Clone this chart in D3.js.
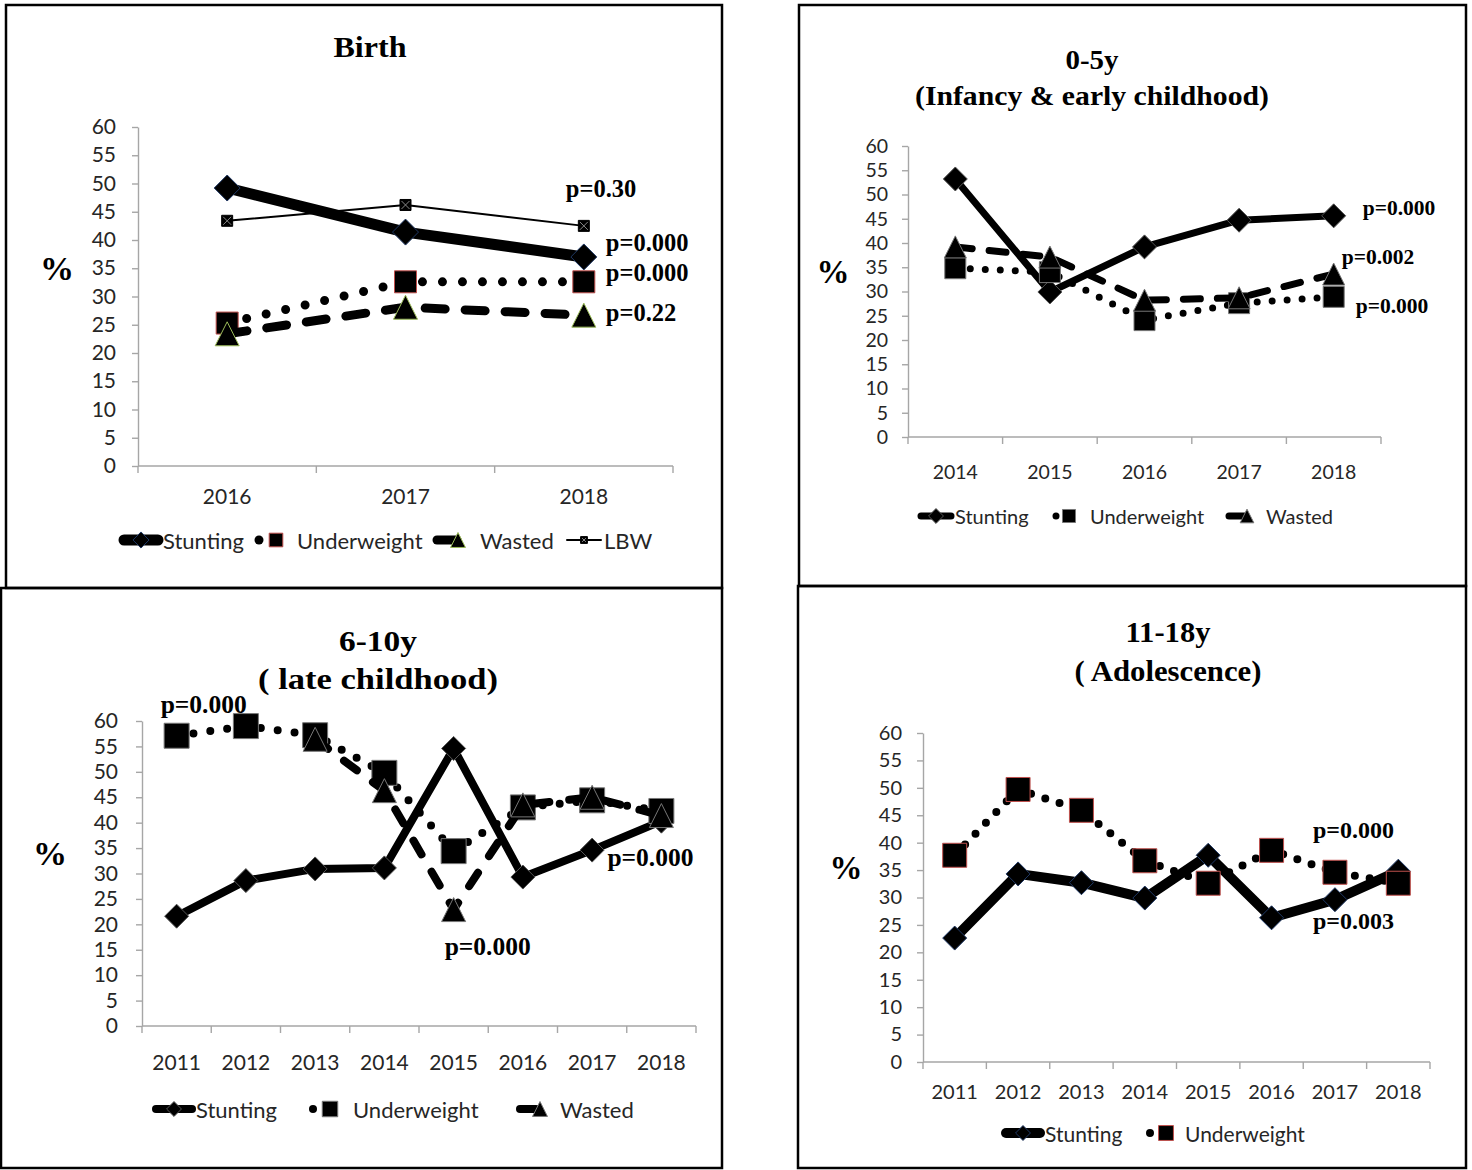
<!DOCTYPE html>
<html>
<head>
<meta charset="utf-8">
<script src="https://cdn.jsdelivr.net/npm/d3@7"></script>
<style>
	body { margin: 0; background: #fff; }
	svg { display: block; }
	.tick text, .legend text { font-family: Lato, "Open Sans", sans-serif; fill: #262626; }
	.title, .plabel, .pct { font-family: "Liberation Serif", "Times New Roman", serif; font-weight: bold; fill: #000; }
</style>
</head>
<body>
<div id="chart"></div>
<script>

// ---- data ----
var birthYears = ["2016", "2017", "2018"];
var birthStunting = [49.2, 41.4, 37.0];
var birthUnderweight = [25.3, 32.6, 32.6];
var birthWasted = [23.4, 28.1, 26.7];
var birthLBW = [43.4, 46.2, 42.5];

var earlyYears = ["2014", "2015", "2016", "2017", "2018"];
var earlyStunting = [53.2, 29.9, 39.2, 44.7, 45.6];
var earlyUnderweight = [34.8, 34.0, 24.1, 27.6, 28.9];
var earlyWasted = [39.2, 37.1, 28.2, 28.7, 33.6];

var lateYears = ["2011", "2012", "2013", "2014", "2015", "2016", "2017", "2018"];
var lateStunting = [21.6, 28.6, 30.9, 31.1, 54.6, 29.3, 34.6, 40.3];
var lateUnderweight = [57.1, 59.0, 57.2, 49.8, 34.4, 43.0, 44.4, 42.3];
var lateWasted = [null, null, 56.4, 46.3, 22.9, 43.5, 45.0, 41.4];

var adolYears = ["2011", "2012", "2013", "2014", "2015", "2016", "2017", "2018"];
var adolStunting = [22.6, 34.3, 32.7, 29.9, 37.7, 26.3, 29.6, 34.8];
var adolUnderweight = [37.7, 49.7, 45.9, 36.7, 32.6, 38.6, 34.6, 32.6];

var yTicks = [0, 5, 10, 15, 20, 25, 30, 35, 40, 45, 50, 55, 60];

// marker shapes, s = full width
function markerPath(type, s) {
	var h = s / 2;
	if (type === "diamond") return "M0," + (-h) + "L" + h + ",0L0," + h + "L" + (-h) + ",0Z";
	if (type === "triangle") return "M0," + (-h) + "L" + h + "," + h + "L" + (-h) + "," + h + "Z";
	return "M" + (-h) + "," + (-h) + "h" + s + "v" + s + "h" + (-s) + "Z";
}

/*
 * LinePanel - one of the four small charts
 */
LinePanel = function (_svg, _cfg) {
	this.svg = _svg;
	this.cfg = _cfg;
	this.initVis();
}

LinePanel.prototype.initVis = function () {
	var vis = this, c = vis.cfg;

	vis.g = vis.svg.append("g");

	// frame
	vis.g.append("rect")
		.attr("x", c.frame[0]).attr("y", c.frame[1])
		.attr("width", c.frame[2] - c.frame[0]).attr("height", c.frame[3] - c.frame[1])
		.attr("fill", "none").attr("stroke", "#000").attr("stroke-width", 2.5);

	// titles (the original is stretched sideways)
	c.title.forEach(function (t, i) {
		vis.g.append("text").attr("class", "title")
			.attr("x", c.titleX - c.titleW[i] / 2).attr("y", c.titleY[i])
			.attr("textLength", c.titleW[i]).attr("lengthAdjust", "spacingAndGlyphs")
			.style("font-size", c.titleSize + "px")
			.text(t);
	});

	vis.x = d3.scaleBand().domain(c.years).range([c.left, c.right]).padding(0);
	vis.y = d3.scaleLinear().domain([0, 60]).range([c.y0, c.y60]);
	var cx = function (i) { return vis.x(c.years[i]) + vis.x.bandwidth() / 2; };

	// y axis
	vis.yAxis = d3.axisLeft(vis.y).tickValues(yTicks).tickSize(6).tickSizeOuter(0).tickPadding(c.yPad);
	var ya = vis.g.append("g").attr("class", "y-axis axis")
		.attr("transform", "translate(" + c.left + ",0)")
		.call(vis.yAxis);
	ya.selectAll("path, line").attr("stroke", "#a6a6a6").attr("stroke-width", 1.4);
	ya.selectAll("text").style("font-size", c.tickSize + "px");

	// x axis: labels at band centres, ticks at band edges
	vis.xAxis = d3.axisBottom(vis.x).tickSize(0);
	var xa = vis.g.append("g").attr("class", "x-axis axis")
		.attr("transform", "translate(0," + c.y0 + ")")
		.call(vis.xAxis);
	xa.select(".domain").remove();
	xa.selectAll("text").attr("y", c.xOff).attr("dy", "0.35em").style("font-size", c.tickSize + "px");
	xa.append("line").attr("x1", c.left).attr("x2", c.right)
		.attr("stroke", "#a6a6a6").attr("stroke-width", 1.4);
	var edges = c.years.map(function (d) { return vis.x(d); }).concat([c.right]);
	xa.selectAll(".edge").data(edges).enter().append("line")
		.attr("class", "edge")
		.attr("x1", function (d) { return d; }).attr("x2", function (d) { return d; })
		.attr("y1", 0).attr("y2", 7)
		.attr("stroke", "#a6a6a6").attr("stroke-width", 1.4);

	// "%"
	vis.g.append("text").attr("class", "pct")
		.attr("x", c.pct[0]).attr("y", c.pct[1])
		.attr("text-anchor", "middle").attr("dominant-baseline", "central")
		.style("font-size", c.pctSize + "px")
		.text("%");

	// series
	c.series.forEach(function (s) {
		var line = d3.line()
			.defined(function (d) { return d != null; })
			.x(function (d, i) { return cx(i); })
			.y(function (d) { return vis.y(d); });
		vis.styleLine(vis.g.append("path").attr("d", line(s.values)), s);

		vis.g.selectAll(null)
			.data(s.values.map(function (v, i) { return { v: v, i: i }; }).filter(function (d) { return d.v != null; }))
			.enter().append("g")
			.attr("transform", function (d) { return "translate(" + cx(d.i) + "," + vis.y(d.v) + ")"; })
			.each(function () { vis.drawMarker(d3.select(this), s); });
	});

	// p-value labels
	c.notes.forEach(function (n) {
		vis.g.append("text").attr("class", "plabel")
			.attr("x", cx(c.years.indexOf(n.year)) + n.dx)
			.attr("y", vis.y(n.value))
			.attr("dominant-baseline", "central")
			.style("font-size", c.noteSize + "px")
			.text(n.text);
	});

	// legend: solid samples run both sides of the marker, dotted/dashed only on the left
	var lg = vis.g.append("g").attr("class", "legend");
	c.legend.forEach(function (item, k) {
		var s = c.series[k];
		var half = s.sample || 21;
		var x1 = item.mx - half, x2 = s.dash ? item.mx : item.mx + half;
		vis.styleLine(lg.append("path").attr("d", "M" + x1 + "," + c.legendY + "H" + x2), s)
			.attr("stroke-linecap", "round");
		vis.drawMarker(lg.append("g").attr("transform", "translate(" + item.mx + "," + c.legendY + ")"), s, 0.62);
		lg.append("text").attr("x", item.tx).attr("y", c.legendY)
			.attr("dominant-baseline", "central")
			.style("font-size", c.legendSize + "px")
			.text(s.name);
	});
}

LinePanel.prototype.styleLine = function (path, s) {
	path.attr("fill", "none").attr("stroke", "#000")
		.attr("stroke-width", s.w)
		.attr("stroke-linejoin", "round")
		.attr("stroke-linecap", s.dash ? "round" : "butt");
	if (s.dash) path.attr("stroke-dasharray", s.dash);
	return path;
}

LinePanel.prototype.drawMarker = function (sel, s, k) {
	var size = s.size * (k || 1);
	sel.append("path")
		.attr("d", markerPath(s.marker, size))
		.attr("fill", "#000")
		.attr("stroke", s.mstroke || "#000")
		.attr("stroke-width", 1);
	if (s.cross) {
		var h = size / 2 - 1.5;
		sel.append("path")
			.attr("d", "M" + (-h) + "," + (-h) + "L" + h + "," + h + "M" + h + "," + (-h) + "L" + (-h) + "," + h)
			.attr("stroke", "#888").attr("stroke-width", 1);
	}
}

var svg = d3.select("#chart").append("svg").attr("width", 1472).attr("height", 1170);

new LinePanel(svg, {
	frame: [6, 5, 722, 588],
	title: ["Birth"], titleX: 370, titleY: [57], titleW: [73], titleSize: 30,
	years: birthYears, left: 138, right: 673, y0: 466, y60: 127,
	yPad: 16, xOff: 31, tickSize: 21, pct: [57, 268], pctSize: 34,
	series: [
		{ name: "Stunting", values: birthStunting, w: 11, marker: "diamond", size: 26, mstroke: "#1f3864", sample: 17 },
		{ name: "Underweight", values: birthUnderweight, w: 9, dash: "0,20", marker: "square", size: 22, mstroke: "#c0504d", sample: 17 },
		{ name: "Wasted", values: birthWasted, w: 9, dash: "20,20", marker: "triangle", size: 24, mstroke: "#9bbb59", sample: 21 },
		{ name: "LBW", values: birthLBW, w: 2, marker: "square", size: 11, cross: true, sample: 17 }
	],
	notes: [
		{ text: "p=0.30", year: "2018", value: 49.2, dx: -18 },
		{ text: "p=0.000", year: "2018", value: 39.5, dx: 22 },
		{ text: "p=0.000", year: "2018", value: 34.2, dx: 22 },
		{ text: "p=0.22", year: "2018", value: 27.1, dx: 22 }
	], noteSize: 24.5,
	legendY: 540, legendSize: 22,
	legend: [{ mx: 141, tx: 163 }, { mx: 276, tx: 297 }, { mx: 458, tx: 480 }, { mx: 584, tx: 604 }]
});

new LinePanel(svg, {
	frame: [799, 5, 1466, 586],
	title: ["0-5y", "(Infancy & early childhood)"], titleX: 1092, titleY: [69, 105], titleW: [53, 354], titleSize: 28,
	years: earlyYears, left: 908, right: 1381, y0: 437, y60: 146,
	yPad: 14, xOff: 35, tickSize: 19.5, pct: [833, 272], pctSize: 33,
	series: [
		{ name: "Stunting", values: earlyStunting, w: 7, marker: "diamond", size: 24, mstroke: "#555", sample: 15 },
		{ name: "Underweight", values: earlyUnderweight, w: 7, dash: "0,15", marker: "square", size: 21, mstroke: "#777", sample: 13 },
		{ name: "Wasted", values: earlyWasted, w: 7, dash: "17,17", marker: "triangle", size: 22, mstroke: "#777", sample: 18 }
	],
	notes: [
		{ text: "p=0.000", year: "2018", value: 47.2, dx: 29 },
		{ text: "p=0.002", year: "2018", value: 37.1, dx: 8 },
		{ text: "p=0.000", year: "2018", value: 27.0, dx: 22 }
	], noteSize: 21.5,
	legendY: 516, legendSize: 20,
	legend: [{ mx: 936, tx: 955 }, { mx: 1069, tx: 1090 }, { mx: 1247, tx: 1266 }]
});

new LinePanel(svg, {
	frame: [1, 588, 722, 1168],
	title: ["6-10y", "( late childhood)"], titleX: 378, titleY: [651, 689], titleW: [78, 240], titleSize: 29,
	years: lateYears, left: 142, right: 696, y0: 1026, y60: 721,
	yPad: 18, xOff: 37, tickSize: 21, pct: [50, 853], pctSize: 34,
	series: [
		{ name: "Stunting", values: lateStunting, w: 8, marker: "diamond", size: 24, mstroke: "#555", sample: 18 },
		{ name: "Underweight", values: lateUnderweight, w: 8, dash: "0,17", marker: "square", size: 25, mstroke: "#777", sample: 17 },
		{ name: "Wasted", values: lateWasted, w: 8, dash: "16,20", marker: "triangle", size: 24, mstroke: "#777", sample: 20 }
	],
	notes: [
		{ text: "p=0.000", year: "2011", value: 63.2, dx: -16 },
		{ text: "p=0.000", year: "2018", value: 33.1, dx: -54 },
		{ text: "p=0.000", year: "2015", value: 15.6, dx: -9 }
	], noteSize: 25.5,
	legendY: 1109, legendSize: 22,
	legend: [{ mx: 174, tx: 196 }, { mx: 330, tx: 353 }, { mx: 540, tx: 560 }]
});

new LinePanel(svg, {
	frame: [798, 586, 1466, 1168],
	title: ["11-18y", "( Adolescence)"], titleX: 1168, titleY: [642, 681], titleW: [85, 187], titleSize: 29,
	years: adolYears, left: 923, right: 1430, y0: 1062, y60: 733,
	yPad: 15, xOff: 30, tickSize: 20, pct: [846, 868], pctSize: 33,
	series: [
		{ name: "Stunting", values: adolStunting, w: 10, marker: "diamond", size: 24, mstroke: "#1f3864", sample: 17 },
		{ name: "Underweight", values: adolUnderweight, w: 8, dash: "0,15", marker: "square", size: 24, mstroke: "#c0504d", sample: 16 }
	],
	notes: [
		{ text: "p=0.000", year: "2017", value: 42.3, dx: -22 },
		{ text: "p=0.003", year: "2017", value: 25.7, dx: -22 }
	], noteSize: 24,
	legendY: 1133, legendSize: 21,
	legend: [{ mx: 1023, tx: 1045 }, { mx: 1166, tx: 1185 }]
});

</script>
</body>
</html>
